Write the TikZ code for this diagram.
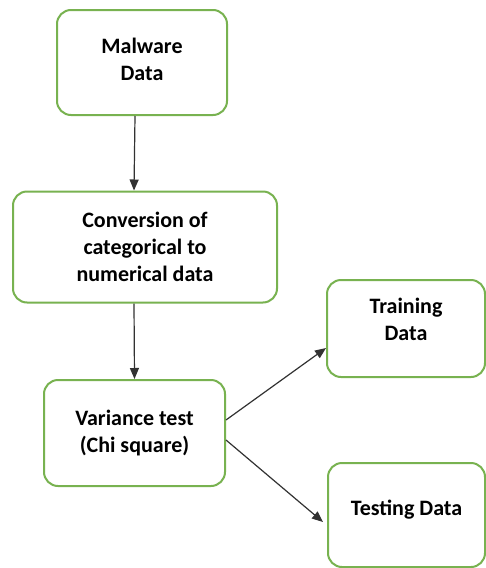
\documentclass[tikz,border=0pt]{standalone}
\usepackage{fontspec}
\setmainfont{Carlito}
\usetikzlibrary{calc,arrows.meta}
\definecolor{boxgreen}{RGB}{120,178,80}
\definecolor{arrowgray}{RGB}{50,50,50}
\tikzset{
  flowbox/.style={draw=boxgreen, line width=2pt, rounded corners=14pt, align=center,
    font=\bfseries\fontsize{22}{27}\selectfont, inner sep=0pt},
  flowtext/.style={align=center, font=\bfseries\fontsize{22}{27}\selectfont, inner sep=0pt},
  arr/.style={draw=arrowgray, line width=1.2pt, -{Triangle[length=11pt,width=9pt]}}
}
\begin{document}
\begin{tikzpicture}[x=1pt,y=-1pt]
\useasboundingbox[fill=white] (0,0) rectangle (486,568);
\node[flowbox, minimum width=170pt, minimum height=105pt] (malware) at (142,62.5) {};
\node[flowtext] (malwaretxt) at (142,59) {Malware\\Data};
\node[flowbox, minimum width=264pt, minimum height=111pt] (conv) at (145,247) {Conversion of\\categorical to\\numerical data};
\node[flowbox, minimum width=181pt, minimum height=106pt] (var) at (134.5,433) {Variance test\\(Chi square)};
\node[flowbox, minimum width=158pt, minimum height=97pt] (train) at (406,328.5) {};
\node[flowtext] (traintxt) at (406,319) {Training\\Data};
\node[flowbox, minimum width=157pt, minimum height=104pt] (test) at (406.5,515) {};
\node[flowtext] (testtxt) at (406.5,510) {Testing Data};
\draw[arr] ($(malware.south)+(-7,0)$) -- ($(conv.north)+(-11,0)$);
\draw[arr] ($(conv.south)+(-11,0)$) -- (var.north);
\draw[arr] ($(var.east)+(0,-13)$) -- ($(train.west)+(0,19.5)$);
\draw[arr] ($(var.east)+(0,7)$) -- ($(test.west)+(-4,7)$);
\end{tikzpicture}
\end{document}
